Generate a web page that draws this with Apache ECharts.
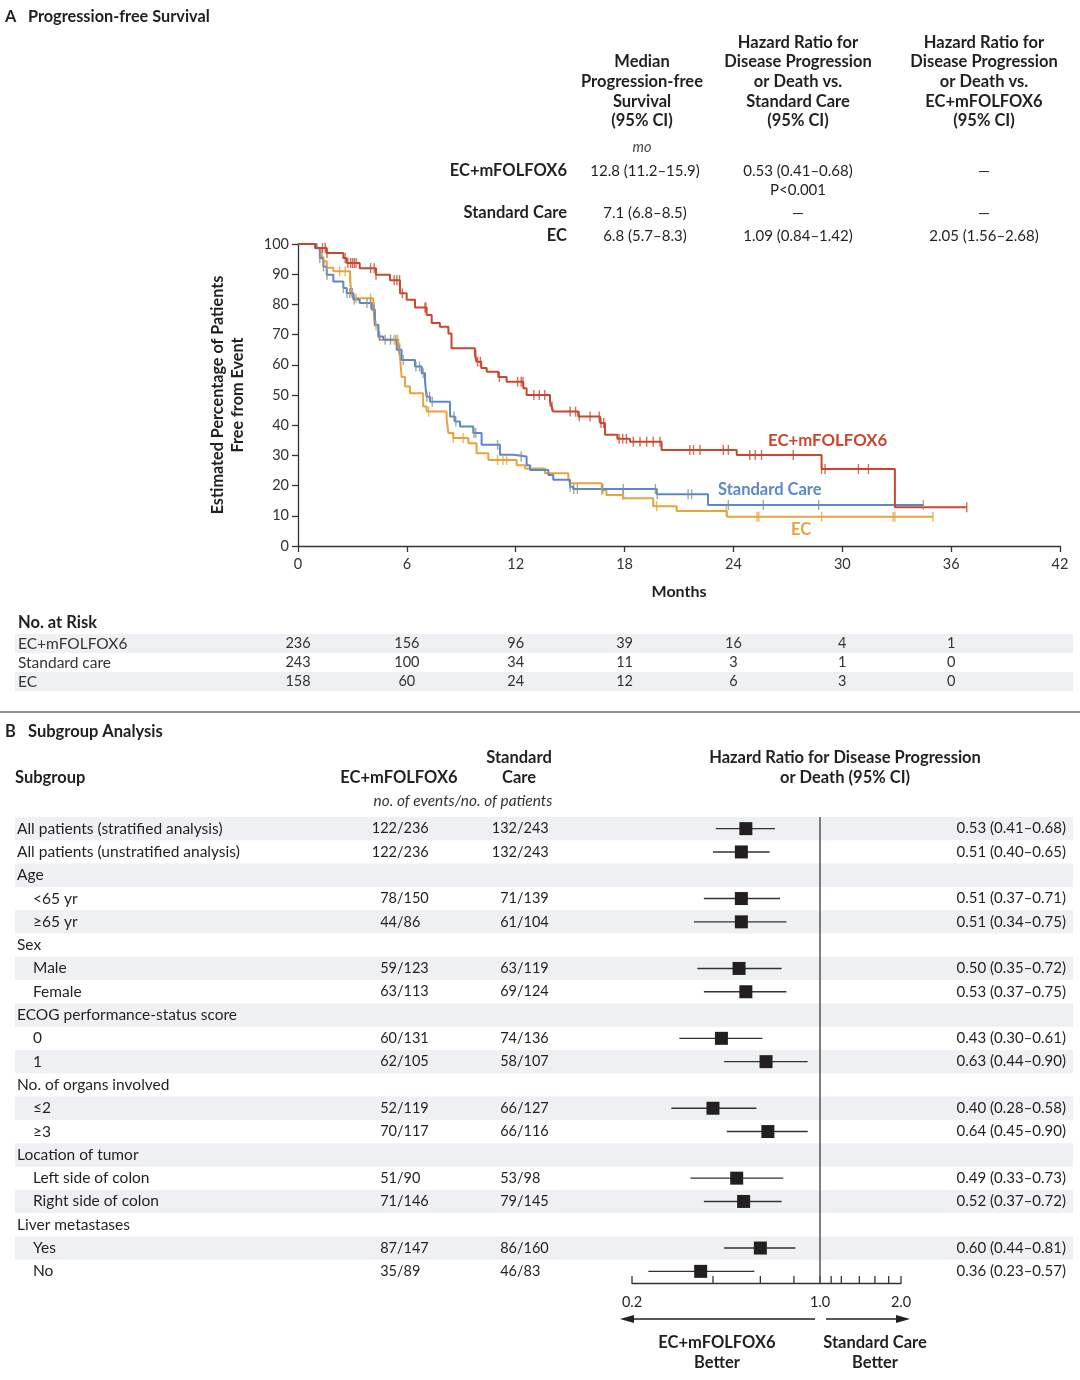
<!DOCTYPE html>
<html><head><meta charset="utf-8">
<script src="https://cdn.jsdelivr.net/npm/echarts@6/dist/echarts.min.js"></script>
<style>html,body{margin:0;padding:0;background:#fff}#c{width:1080px;height:1380px}</style>
</head><body><div id="c"></div>
<script>
// ---------------- DATA ----------------
// Panel A summary table
const summaryHeaders = [
  ['Median','Progression-free','Survival','(95% CI)'],
  ['Hazard Ratio for','Disease Progression','or Death vs.','Standard Care','(95% CI)'],
  ['Hazard Ratio for','Disease Progression','or Death vs.','EC+mFOLFOX6','(95% CI)']
];
const summaryArms = ['EC+mFOLFOX6','Standard Care','EC'];
const summaryMedian = ['12.8 (11.2–15.9)','7.1 (6.8–8.5)','6.8 (5.7–8.3)'];
const summaryHRvsStandard = ['0.53 (0.41–0.68)','—','1.09 (0.84–1.42)'];
const summaryHRvsCombo = ['—','—','2.05 (1.56–2.68)'];
const summaryPValue = 'P<0.001';

// Kaplan-Meier step data: [month, % free from event]
const survCombo = [[0,100],[0.94,98.7],[1.58,97],[2.5,95.4],[2.68,93.7],[3.4,92],[4.3,89.8],[5.07,88],[5.62,83.7],[5.99,81.5],[6.45,79],[7.09,76.5],[7.37,73.8],[7.82,72.6],[8.29,70.4],[8.46,65.5],[9.75,63.3],[9.84,61],[10.1,58.9],[10.4,57.7],[11.04,56],[11.5,54.4],[12.42,52.2],[12.6,50],[13.89,47.8],[13.98,46.2],[14.07,44.5],[15.45,42.9],[16.65,40.7],[16.92,36.8],[17.6,35.5],[18.3,34.5],[20.04,31.8],[24.18,30.1],[28.86,25.5],[32.9,12.8],[36.86,12.8]];
const survStandard = [[0,100],[1.03,98.7],[1.2,95.4],[1.4,92.5],[1.58,89.8],[1.95,87.6],[2.5,85.4],[2.68,83.8],[3.05,81.6],[3.4,80.5],[4.06,78.3],[4.24,73.3],[4.43,69.4],[4.7,68.3],[5.44,65],[5.71,61.6],[6.45,59.4],[6.82,57.2],[7.0,54.4],[7.09,49.4],[7.28,47.8],[8.38,42.9],[8.65,41.2],[8.93,39.6],[9.66,37.4],[10.12,33.5],[11.13,30.2],[11.87,29.6],[12.6,26.7],[12.79,25.2],[13.8,23.5],[14.07,21.9],[14.99,19.6],[15.17,18.9],[19.77,17.1],[22.6,13.6],[34.47,13.6]];
const survEC = [[0,100],[0.94,98.6],[1.3,96.5],[1.4,94.3],[1.58,92.1],[1.95,91],[2.87,87.6],[2.96,83.2],[3.05,82],[4.15,79.1],[4.24,73],[4.43,69.4],[4.52,68.3],[5.53,65.6],[5.62,62.8],[5.71,56],[5.9,52.8],[6.17,50.6],[6.9,46.2],[7.09,44.5],[8.19,42.3],[8.29,37.4],[8.56,35.8],[9.39,34],[9.84,30.7],[10.49,28.5],[12.05,26.7],[12.51,25.7],[13.61,24.1],[14.9,22.4],[14.99,20.8],[16.74,18.5],[17.0,16.9],[17.93,15.8],[19.58,13.2],[20.87,11.6],[23.64,9.7],[35.0,9.7]];

// censoring times (months)
const censorCombo = [1.35,1.5,1.6,2.6,2.75,2.9,3.0,3.1,3.2,4.0,4.2,4.3,5.3,5.45,5.6,5.75,7.0,7.05,9.8,9.9,10.05,11.1,12.1,12.3,12.4,13.0,13.3,13.6,13.9,14.0,15.0,15.3,15.5,16.1,16.6,16.7,16.85,17.7,17.9,18.1,18.48,18.85,19.22,19.58,19.95,21.6,21.8,22.16,23.44,23.72,24.9,25.2,25.55,27.3,28.86,29.05,30.89,31.44,36.86];
const censorStandard = [1.2,1.4,1.6,2.5,2.7,2.85,3.0,3.1,3.8,4.0,4.2,4.5,4.8,5.1,5.4,5.6,5.8,6.5,6.7,6.9,7.1,7.25,7.4,8.6,8.7,9.7,9.8,11.0,12.3,15.0,15.2,15.4,16.8,17.93,19.7,19.8,21.5,21.7,23.72,25.65,28.7,34.47];
const censorEC = [1.4,1.6,2.3,2.6,2.9,3.2,4.0,4.2,4.3,5.3,5.5,5.6,7.2,8.56,9.1,11.0,11.3,11.5,16.74,17.9,19.77,23.6,25.3,25.4,28.86,32.8,32.9,35.0];

// Numbers at risk
const riskArms = ['EC+mFOLFOX6','Standard care','EC'];
const riskTimes = [0,6,12,18,24,30,36];
const riskCombo = [236,156,96,39,16,4,1];
const riskStandard = [243,100,34,11,3,1,0];
const riskEC = [158,60,24,12,6,3,0];

// Panel B subgroup analysis
const subgroupLabels = ['All patients (stratified analysis)','All patients (unstratified analysis)','Age','<65 yr','≥65 yr','Sex','Male','Female','ECOG performance-status score','0','1','No. of organs involved','≤2','≥3','Location of tumor','Left side of colon','Right side of colon','Liver metastases','Yes','No'];
const subgroupIndent = [0,0,0,1,1,0,1,1,0,1,1,0,1,1,0,1,1,0,1,1];
const eventsCombo = ['122/236','122/236','','78/150','44/86','','59/123','63/113','','60/131','62/105','','52/119','70/117','','51/90','71/146','','87/147','35/89'];
const eventsStandard = ['132/243','132/243','','71/139','61/104','','63/119','69/124','','74/136','58/107','','66/127','66/116','','53/98','79/145','','86/160','46/83'];
const hrPoint = [0.53,0.51,null,0.51,0.51,null,0.50,0.53,null,0.43,0.63,null,0.40,0.64,null,0.49,0.52,null,0.60,0.36];
const hrLower = [0.41,0.40,null,0.37,0.34,null,0.35,0.37,null,0.30,0.44,null,0.28,0.45,null,0.33,0.37,null,0.44,0.23];
const hrUpper = [0.68,0.65,null,0.71,0.75,null,0.72,0.75,null,0.61,0.90,null,0.58,0.90,null,0.73,0.72,null,0.81,0.57];
const forestTicks = [0.2,0.4,0.6,0.8,1.0,1.1,1.2,1.4,1.6,1.8,2.0];
const forestTickLabels = ['0.2','','','','1.0','','','','','','2.0'];

// ---------------- STYLE / LAYOUT ----------------
const FONT = 'Lato, "Noto Sans", "DejaVu Sans", sans-serif';
const RED = '#C9472F', BLUE = '#5A88C9', ORANGE = '#E9A33B', INK = '#231f20', BAND = '#eff0f3';
function font(size, bold, italic){ return (italic?'italic ':'') + (bold?'bold ':'') + size + 'px ' + FONT; }
function T(text, x, y, o){
  o = o || {};
  const al = o.align || 'left';
  return {type:'text', x:x, y:y, silent:true, z:10,
    style:{text:text, fill:o.color||INK, font:font(o.size||15, o.bold, o.italic),
      textAlign:al, align:al, textVerticalAlign:'middle', verticalAlign:'middle'}};
}
function survAt(steps, t){
  let v = steps[0][1];
  for (const s of steps){ if (s[0] <= t + 1e-9) v = s[1]; else break; }
  return v;
}

const HS = 16.5; // header size
const g = [];
// Panel A title
g.push(T('A', 5, 17, {bold:true, size:16.3}));
g.push(T('Progression-free Survival', 28, 17, {bold:true, size:16.3}));
// Summary headers
const headX = [642, 798, 984];
summaryHeaders.forEach((lines, c) => {
  lines.forEach((ln, k) => g.push(T(ln, headX[c], 121 - (lines.length-1-k)*19.7, {bold:true, size:HS, align:'center'})));
});
g.push(T('mo', 642, 147, {italic:true, size:14.5, align:'center', color:'#444'}));
const rowY = [171, 213, 236];
summaryArms.forEach((a, i) => {
  g.push(T(a, 567, rowY[i], {bold:true, size:HS, align:'right'}));
  g.push(T(summaryMedian[i], 645, rowY[i], {size:15, align:'center'}));
  g.push(T(summaryHRvsStandard[i], 798, rowY[i], {size:15, align:'center'}));
  g.push(T(summaryHRvsCombo[i], 984, rowY[i], {size:15, align:'center'}));
});
g.push(T(summaryPValue, 798, 190, {size:15, align:'center'}));
// curve labels
g.push(T('EC+mFOLFOX6', 768, 441, {bold:true, size:16.8, color:RED}));
g.push(T('Standard Care', 718, 490, {bold:true, size:16.5, color:BLUE}));
g.push(T('EC', 791, 530, {bold:true, size:16.5, color:ORANGE}));
// risk title
g.push(T('No. at Risk', 18, 623, {bold:true, size:HS}));
// separator
g.push({type:'line', silent:true, shape:{x1:0,y1:712,x2:1080,y2:712}, style:{stroke:'#6d6e70', lineWidth:1.6}});
// Panel B titles
g.push(T('B', 5, 732, {bold:true, size:16.5}));
g.push(T('Subgroup Analysis', 28, 732, {bold:true, size:16.5}));
g.push(T('Subgroup', 15, 778, {bold:true, size:HS}));
g.push(T('EC+mFOLFOX6', 399, 778, {bold:true, size:HS, align:'center'}));
g.push(T('Standard', 519, 758, {bold:true, size:HS, align:'center'}));
g.push(T('Care', 519, 778, {bold:true, size:HS, align:'center'}));
g.push(T('Hazard Ratio for Disease Progression', 845, 758, {bold:true, size:HS, align:'center'}));
g.push(T('or Death (95% CI)', 845, 778, {bold:true, size:HS, align:'center'}));
g.push(T('no. of events/no. of patients', 463, 801, {italic:true, size:15.4, align:'center', color:'#333'}));
// arrows
g.push({type:'line', silent:true, shape:{x1:628,y1:1319,x2:815,y2:1319}, style:{stroke:INK, lineWidth:1.3}});
g.push({type:'polygon', silent:true, shape:{points:[[620,1319],[634,1315],[634,1323]]}, style:{fill:INK}});
g.push({type:'line', silent:true, shape:{x1:826,y1:1319,x2:902,y2:1319}, style:{stroke:INK, lineWidth:1.3}});
g.push({type:'polygon', silent:true, shape:{points:[[910,1319],[896,1315],[896,1323]]}, style:{fill:INK}});
g.push(T('EC+mFOLFOX6', 717, 1343, {bold:true, size:HS, align:'center'}));
g.push(T('Better', 717, 1363, {bold:true, size:HS, align:'center'}));
g.push(T('Standard Care', 875, 1343, {bold:true, size:HS, align:'center'}));
g.push(T('Better', 875, 1363, {bold:true, size:HS, align:'center'}));

// ---------------- SERIES ----------------
const axisLine = {show:true, lineStyle:{color:'#333', width:1.3}};
function kmLine(name, data, color){
  return {type:'line', name:name, xAxisIndex:0, yAxisIndex:0, step:'end', symbol:'none', data:data,
    lineStyle:{color:color, width:2}, itemStyle:{color:color}, silent:true, z:3, animation:false};
}
function kmCensor(times, steps, color){
  return {type:'scatter', xAxisIndex:0, yAxisIndex:0, symbol:'rect', symbolSize:[1.4,10],
    data: times.map(t => [t, survAt(steps, t)]), itemStyle:{color:color}, silent:true, z:4, animation:false};
}
const riskMatrix = [riskCombo, riskStandard, riskEC];
const riskData = [];
riskMatrix.forEach((arr, r) => arr.forEach((v, j) => riskData.push([riskTimes[j], r, v])));

const forestData = [];
hrPoint.forEach((v, i) => { if (v != null) forestData.push([v, hrLower[i], hrUpper[i], i]); });

const option = {
  backgroundColor:'#fff',
  animation:false,
  textStyle:{fontFamily:FONT},
  grid:[
    {left:298, top:244, width:762, height:302, outerBoundsMode:'none', containLabel:false},
    {left:298, top:634, width:762, height:57, outerBoundsMode:'none', containLabel:false},
    {left:632, top:817, width:269, height:466, outerBoundsMode:'none', containLabel:false}
  ],
  xAxis:[
    {gridIndex:0, type:'value', min:0, max:42, interval:6, axisLine:axisLine,
      axisTick:{show:true, length:6, lineStyle:{color:'#333', width:1.3}},
      axisLabel:{fontSize:14.5, color:'#333', margin:11, fontFamily:FONT}, splitLine:{show:false},
      name:'Months', nameLocation:'middle', nameGap:38, nameMoveOverlap:false,
      nameTextStyle:{fontWeight:'bold', fontSize:16, color:INK, fontFamily:FONT}},
    {gridIndex:1, type:'value', min:0, max:42, show:false},
    {gridIndex:2, type:'log', logBase:10, min:0.2, max:2, axisLine:{show:true, onZero:false, lineStyle:{color:'#333', width:1.3}},
      axisTick:{show:false}, axisLabel:{show:false}, splitLine:{show:false}, minorTick:{show:false}, minorSplitLine:{show:false}}
  ],
  yAxis:[
    {gridIndex:0, type:'value', min:0, max:100, interval:10, axisLine:axisLine,
      axisTick:{show:true, length:6, lineStyle:{color:'#333', width:1.3}},
      axisLabel:{fontSize:14.5, color:'#333', margin:9, fontFamily:FONT}, splitLine:{show:false},
      name:'Estimated Percentage of Patients\nFree from Event', nameLocation:'middle', nameGap:50, nameRotate:90, nameMoveOverlap:false,
      nameTextStyle:{fontWeight:'bold', fontSize:16.2, lineHeight:20, color:INK, fontFamily:FONT, align:'center'}},
    {gridIndex:1, type:'category', data:riskArms, inverse:true, axisLine:{show:false}, axisTick:{show:false},
      axisLabel:{interval:0, hideOverlap:false, align:'left', margin:280, fontSize:15.5, color:'#333', fontFamily:FONT}, splitLine:{show:false}},
    {gridIndex:2, type:'value', min:-0.5, max:19.5, inverse:true, show:false}
  ],
  graphic:{elements:g},
  series:[
    // risk table bands
    {type:'custom', xAxisIndex:1, yAxisIndex:1, clip:false, silent:true, z:0,
      data: riskArms.map((_, r) => [0, r]),
      renderItem:function(params, api){
        const r = api.value(1);
        if (r % 2 !== 0) return {type:'group', children:[]};
        const c = api.coord([0, r]);
        return {type:'rect', shape:{x:15, y:c[1]-9.5, width:1058, height:19}, style:{fill:BAND}};
      }},
    // risk numbers
    {type:'custom', xAxisIndex:1, yAxisIndex:1, clip:false, silent:true, z:2,
      data: riskData,
      renderItem:function(params, api){
        const c = api.coord([api.value(0), api.value(1)]);
        return {type:'text', style:{text:String(api.value(2)), x:c[0], y:c[1], fill:'#333', font:font(14.5),
          textAlign:'center', align:'center', textVerticalAlign:'middle', verticalAlign:'middle'}};
      }},
    kmLine('EC', survEC, ORANGE),
    kmLine('Standard Care', survStandard, BLUE),
    kmLine('EC+mFOLFOX6', survCombo, RED),
    kmCensor(censorEC, survEC, ORANGE),
    kmCensor(censorStandard, survStandard, '#8a8f98'),
    kmCensor(censorCombo, survCombo, RED),
    // forest bands
    {type:'custom', xAxisIndex:2, yAxisIndex:2, clip:false, silent:true, z:0,
      data: subgroupLabels.map((_, i) => [1, i]),
      renderItem:function(params, api){
        const i = api.value(1);
        if (i % 2 !== 0) return {type:'group', children:[]};
        const c = api.coord([1, i]);
        const h = api.size([0, 1])[1];
        return {type:'rect', shape:{x:15, y:c[1]-h/2, width:1058, height:h}, style:{fill:BAND}};
      }},
    // forest text columns
    {type:'custom', xAxisIndex:2, yAxisIndex:2, clip:false, silent:true, z:2,
      data: subgroupLabels.map((_, i) => [1, i]),
      renderItem:function(params, api){
        const i = api.value(1);
        const y = api.coord([1, i])[1];
        const mk = (text, x, align, size) => ({type:'text', style:{text:text, x:x, y:y, fill:INK, font:font(size),
          textAlign:align, align:align, textVerticalAlign:'middle', verticalAlign:'middle'}});
        const ch = [mk(subgroupLabels[i], subgroupIndent[i] ? 33 : 17, 'left', 15.5)];
        if (eventsCombo[i]) {
          const a = eventsCombo[i].split('/'), b = eventsStandard[i].split('/');
          ch.push(mk(a[0], 397, 'right', 14.5), mk('/' + a[1], 397, 'left', 14.5));
          ch.push(mk(b[0], 517, 'right', 14.5), mk('/' + b[1], 517, 'left', 14.5));
        }
        if (hrPoint[i] != null) {
          ch.push(mk(hrPoint[i].toFixed(2) + ' (' + hrLower[i].toFixed(2) + '–' + hrUpper[i].toFixed(2) + ')', 1066, 'right', 15));
        }
        return {type:'group', children:ch};
      }},
    // forest axis ticks + labels
    {type:'custom', xAxisIndex:2, yAxisIndex:2, clip:false, silent:true, z:3,
      data: forestTicks.map((v, k) => [v, 19.5, k]),
      renderItem:function(params, api){
        const c = api.coord([api.value(0), 19.5]);
        const lab = forestTickLabels[api.value(2)];
        const ch = [{type:'line', shape:{x1:c[0], y1:c[1], x2:c[0], y2:c[1]-7}, style:{stroke:'#333', lineWidth:1.3}}];
        if (lab) ch.push({type:'text', style:{text:lab, x:c[0], y:c[1]+19, fill:INK, font:font(14.5),
          textAlign:'center', align:'center', textVerticalAlign:'middle', verticalAlign:'middle'}});
        return {type:'group', children:ch};
      }},
    // forest CI + squares
    {type:'custom', xAxisIndex:2, yAxisIndex:2, clip:false, silent:true, z:4,
      data: forestData,
      renderItem:function(params, api){
        const row = api.value(3);
        const p = api.coord([api.value(0), row]);
        const l = api.coord([api.value(1), row]);
        const h = api.coord([api.value(2), row]);
        return {type:'group', children:[
          {type:'line', shape:{x1:l[0], y1:p[1], x2:h[0], y2:p[1]}, style:{stroke:'#333', lineWidth:1.4}},
          {type:'rect', shape:{x:p[0]-6.5, y:p[1]-6.5, width:13, height:13}, style:{fill:INK}}
        ]};
      },
      markLine:{silent:true, symbol:'none', label:{show:false}, animation:false,
        lineStyle:{color:'#555', width:1.5, type:'solid'}, data:[{xAxis:1}]}}
  ]
};
const chart = echarts.init(document.getElementById('c'), null, {renderer:'canvas'});
chart.setOption(option);
</script>
</body></html>
